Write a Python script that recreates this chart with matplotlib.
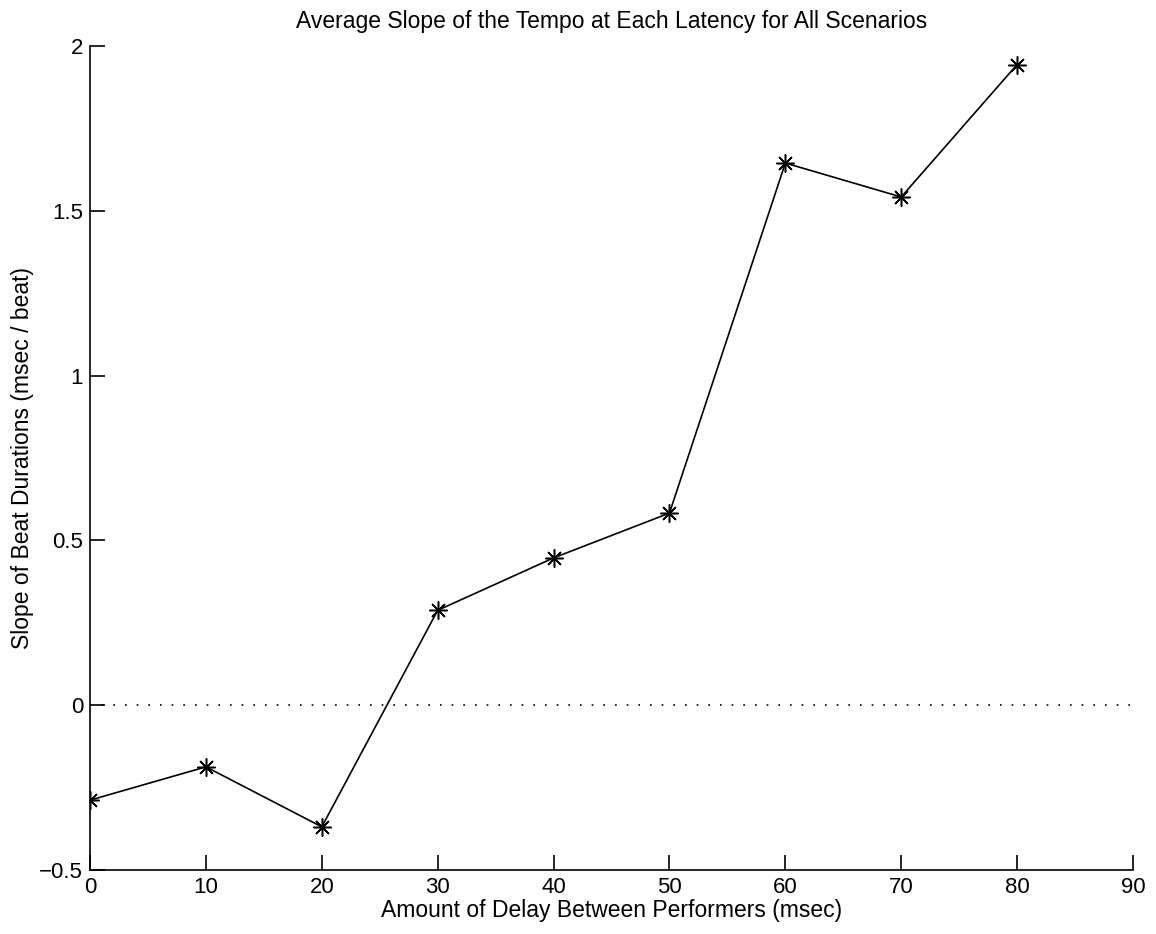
import matplotlib
matplotlib.use("Agg")
import matplotlib.pyplot as plt

# latency (msec) and mean slope of beat durations (msec / beat)
delay = [0, 10, 20, 30, 40, 50, 60, 70, 80]
slope = [-0.288, -0.187, -0.369, 0.288, 0.447, 0.583, 1.645, 1.542, 1.944]
xticks = [0, 10, 20, 30, 40, 50, 60, 70, 80, 90]
yticks = [-0.5, 0, 0.5, 1, 1.5, 2]

plt.rcParams['font.family'] = ['Liberation Sans', 'DejaVu Sans']
plt.rcParams['axes.unicode_minus'] = True

fig = plt.figure(figsize=(11.56, 9.34), dpi=100)
ax = fig.add_axes([0.0779, 0.0685, 0.9022, 0.8822])

# MATLAB-style asterisk marker (8 spokes)
ax.plot(delay, slope, color='black', linewidth=1.2, marker=(8, 2, 0),
        markersize=13, markeredgewidth=1.1)
ax.plot([xticks[0], xticks[-1]], [0, 0], color='black', linewidth=1.2,
        linestyle=(0, (1, 6)))

ax.set_xlim(0, 90)
ax.set_ylim(-0.5, 2)
ax.set_xticks(xticks)
ax.set_yticks(yticks)
ax.set_yticklabels(['\u22120.5', '0', '0.5', '1', '1.5', '2'])

for s in ['top', 'right']:
    ax.spines[s].set_visible(False)
for s in ['left', 'bottom']:
    ax.spines[s].set_linewidth(1.2)
ax.tick_params(direction='in', length=11, width=1.2, labelsize=16, pad=5)

ax.set_xlabel('Amount of Delay Between Performers (msec)', fontsize=16.5, labelpad=1)
ax.set_ylabel('Slope of Beat Durations (msec / beat)', fontsize=16.5, labelpad=4)
ax.set_title('Average Slope of the Tempo at Each Latency for All Scenarios',
             fontsize=16.5, pad=13)

fig.savefig('out.png', dpi=100, facecolor='white')
